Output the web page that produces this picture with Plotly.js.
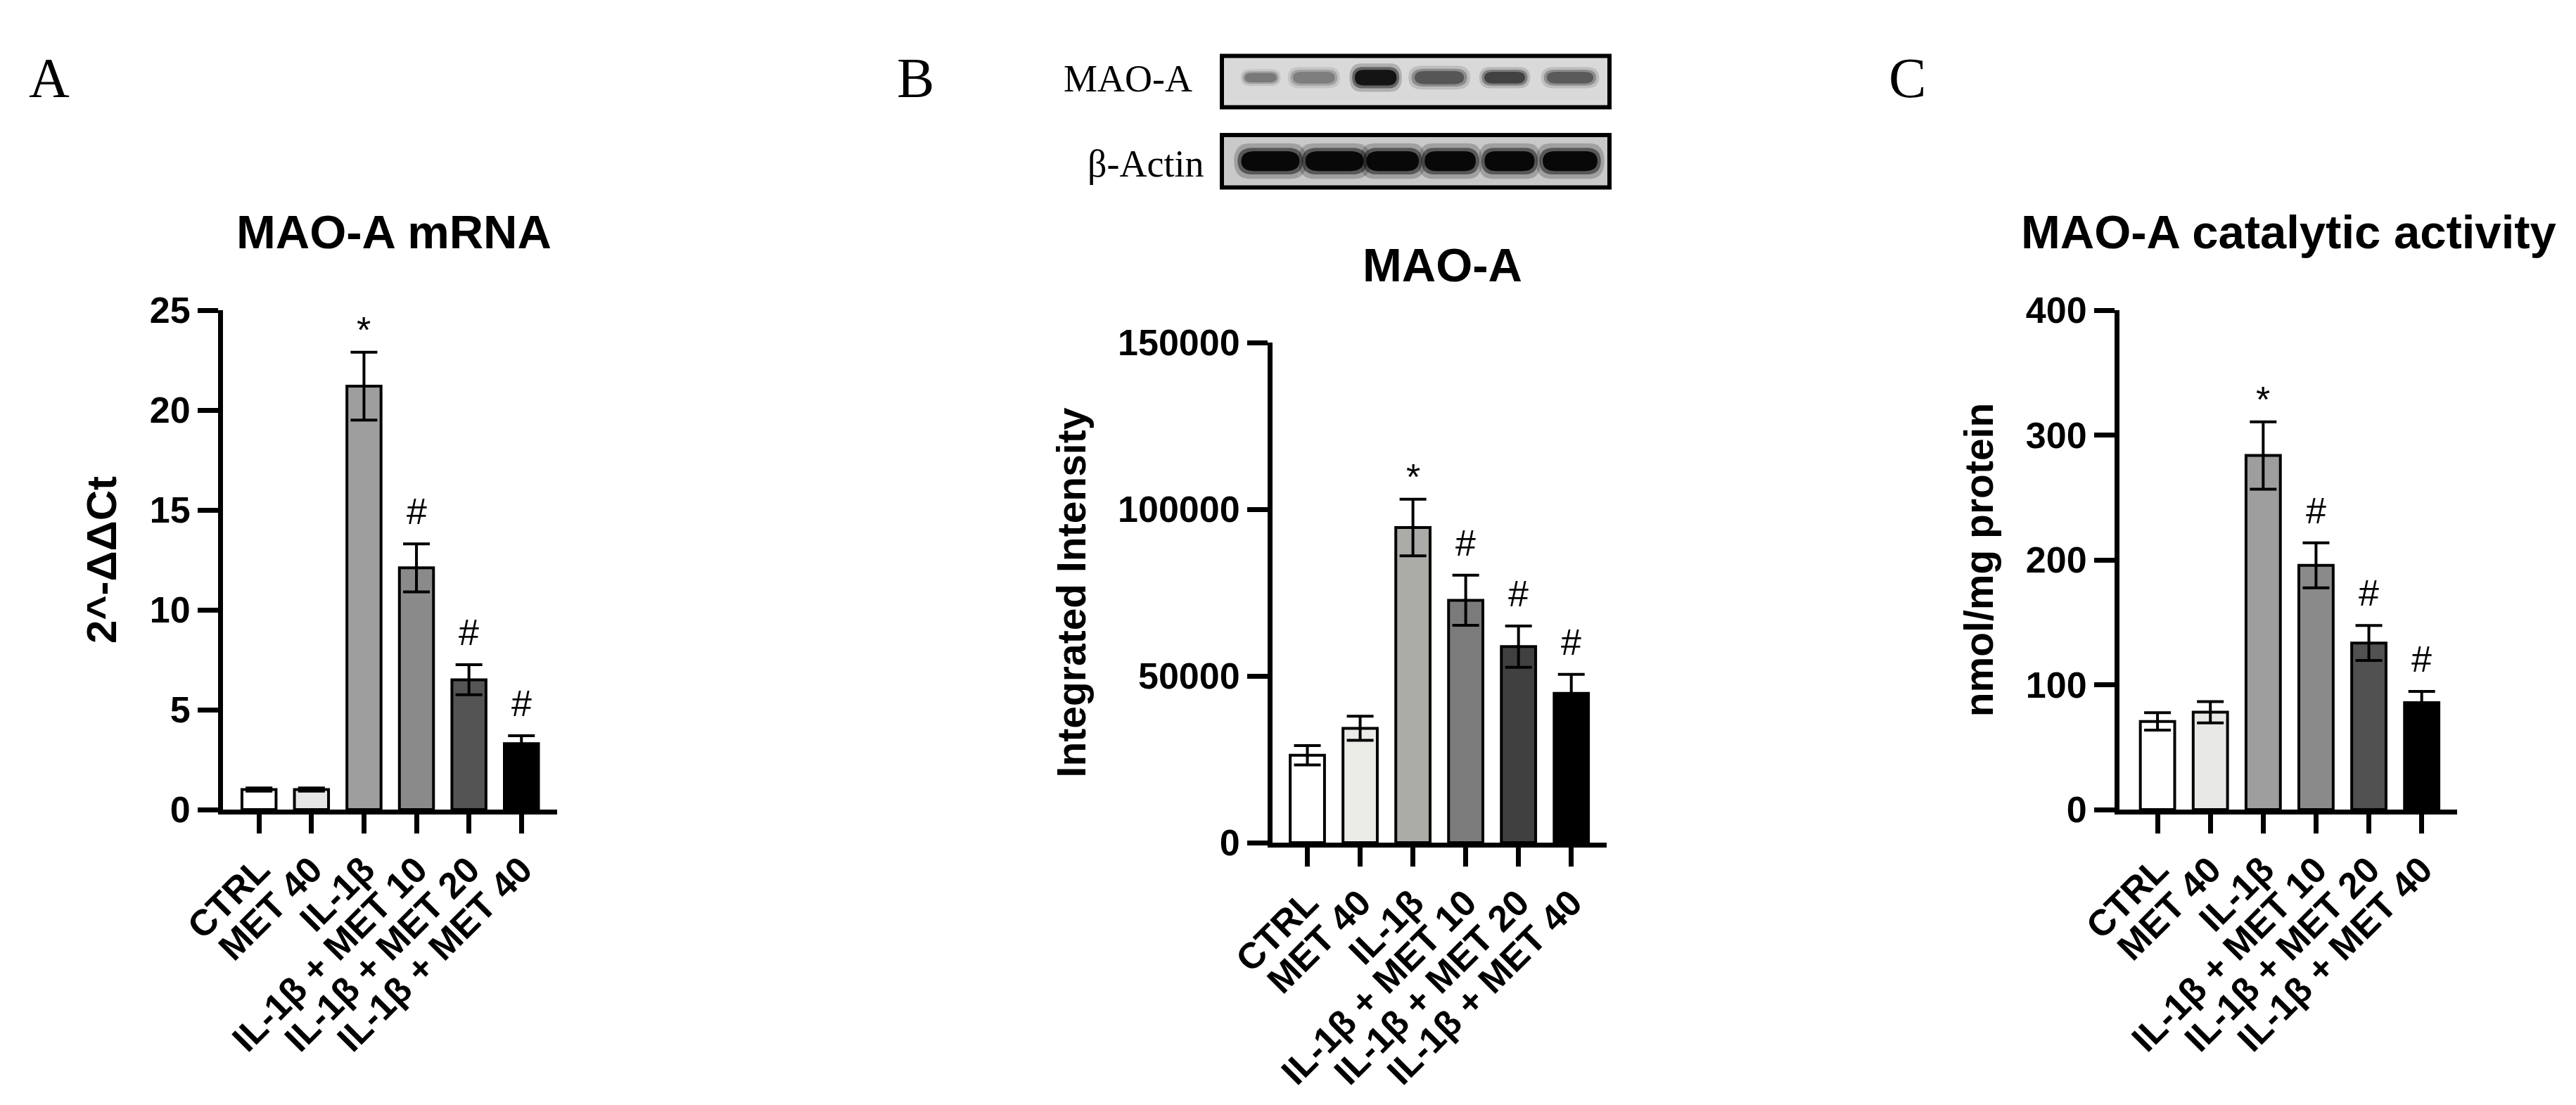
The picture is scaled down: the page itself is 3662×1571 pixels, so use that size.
<!DOCTYPE html>
<html>
<head>
<meta charset="utf-8">
<script src="https://cdn.plot.ly/plotly-3.0.1.min.js"></script>
<style>
  html, body { margin: 0; padding: 0; background: #ffffff; }
  #chart { width: 3662px; height: 1571px; }
</style>
</head>
<body>
<div id="chart"></div>
<script>
// ---------- data ----------
var groups = ['CTRL', 'MET 40', 'IL-1β', 'IL-1β + MET 10', 'IL-1β + MET 20', 'IL-1β + MET 40'];
var sigMarks = ['', '', '*', '#', '#', '#'];

var mrnaMean = [1.0, 1.0, 21.2, 12.1, 6.5, 3.3];
var mrnaSem  = [0.08, 0.08, 1.7, 1.2, 0.75, 0.4];

var westernMean = [26200, 34300, 94500, 72700, 58800, 44800];
var westernSem  = [2900, 3600, 8500, 7500, 6200, 5700];

var activityMean = [70.6, 78, 283.6, 195.6, 133.4, 85.7];
var activitySem  = [7, 8.5, 27, 18, 14, 9];

// western blot: band darkness per lane (0 = none, 1 = black)
var blotRows = ['MAO-A', 'β-Actin'];
var maoBandDark   = [0.45, 0.42, 0.95, 0.62, 0.72, 0.60];
var actinBandDark = [1.0, 1.0, 1.0, 1.0, 1.0, 1.0];

// ---------- styles ----------
var colorsA = ['#ffffff', '#e6e6e6', '#9e9e9e', '#8a8a8a', '#545454', '#000000'];
var colorsB = ['#ffffff', '#ebebe8', '#abaca7', '#7b7b7b', '#404040', '#000000'];
var colorsC = ['#ffffff', '#e8e8e6', '#9e9e9e', '#8a8a8a', '#515151', '#000000'];

// blot band geometry (style, in lane units / blot-axis units)
var maoBandStyle   = { shift: [-0.16, -0.28, -0.26, -0.21, -0.13, -0.05], width: [0.55, 0.72, 0.72, 0.85, 0.70, 0.80], height: [0.07, 0.09, 0.12, 0.10, 0.09, 0.09], yc: 0.835 };
var actinBandStyle = { shift: [0, 0.06, 0.02, -0.03, -0.05, -0.05], width: [1.0, 1.0, 0.9, 0.88, 0.86, 0.94], height: [0.15, 0.15, 0.15, 0.15, 0.15, 0.15], yc: 0.20 };

var W = 3662, H = 1571;
function dx(px) { return px / W; }
function dy(py) { return 1 - py / H; }

var SANS = 'Liberation Sans, Arial, sans-serif';
var SERIF = 'Liberation Serif, Times New Roman, serif';

function barTrace(means, sems, colors, xa, ya) {
  return {
    type: 'bar',
    x: groups,
    y: means,
    xaxis: xa, yaxis: ya,
    width: 0.65,
    marker: { color: colors, line: { color: '#000000', width: 4 } },
    error_y: { type: 'data', array: sems, visible: true, color: '#000000', thickness: 4, width: 19 },
    hoverinfo: 'skip',
    showlegend: false
  };
}

var traces = [
  barTrace(mrnaMean, mrnaSem, colorsA, 'x', 'y'),
  barTrace(westernMean, westernSem, colorsB, 'x2', 'y2'),
  barTrace(activityMean, activitySem, colorsC, 'x3', 'y3')
];

function xAxis(domPx, rng, anchor) {
  return {
    domain: [dx(domPx[0]), dx(domPx[1])],
    anchor: anchor,
    range: rng,
    type: 'category',
    showline: true, linecolor: '#000000', linewidth: 7,
    ticks: 'outside', ticklen: 27, tickwidth: 7, tickcolor: '#000000',
    tickangle: -45,
    tickfont: { family: SANS, size: 52, color: '#000000', weight: 'bold' },
    showgrid: false, zeroline: false, fixedrange: true
  };
}
function yAxis(domPx, rng, dtick, title, anchor, standoff, tsize) {
  return {
    domain: [dy(domPx[1]), dy(domPx[0])],
    anchor: anchor,
    range: rng, dtick: dtick, tick0: 0,
    showline: true, linecolor: '#000000', linewidth: 7,
    ticks: 'outside', ticklen: 29, tickwidth: 7, tickcolor: '#000000',
    tickfont: { family: SANS, size: 52, color: '#000000', weight: 'bold' },
    showgrid: false, zeroline: false, fixedrange: true,
    title: { text: title, standoff: standoff, font: { family: SANS, size: tsize, color: '#000000', weight: 'bold' } }
  };
}

var annotations = [];
function sigAnn(means, sems, xa, ya) {
  for (var i = 0; i < groups.length; i++) {
    if (!sigMarks[i]) continue;
    annotations.push({
      x: groups[i], y: means[i] + sems[i], xref: xa, yref: ya,
      text: sigMarks[i], showarrow: false,
      xanchor: 'center', yanchor: 'middle',
      yshift: sigMarks[i] === '*' ? 32 : 46,
      font: { family: SANS, size: 52, color: '#000000' }
    });
  }
}
sigAnn(mrnaMean, mrnaSem, 'x', 'y');
sigAnn(westernMean, westernSem, 'x2', 'y2');
sigAnn(activityMean, activitySem, 'x3', 'y3');

function paperText(txt, xpx, ypx, font, xanchor) {
  annotations.push({
    x: dx(xpx), y: dy(ypx), xref: 'paper', yref: 'paper',
    text: txt, showarrow: false, xanchor: xanchor || 'center', yanchor: 'middle',
    font: font
  });
}
// panel letters
paperText('A', 70, 111, { family: SERIF, size: 80, color: '#000000' });
paperText('B', 1301, 111, { family: SERIF, size: 80, color: '#000000' });
paperText('C', 2711, 111, { family: SERIF, size: 80, color: '#000000' });
// panel titles
var titleFont = { family: SANS, size: 67, color: '#000000', weight: 'bold' };
paperText('MAO-A mRNA', 560, 330, titleFont);
paperText('MAO-A', 2050, 376, titleFont);
paperText('MAO-A catalytic activity', 3253, 330, titleFont);
// blot row labels
paperText(blotRows[0], 1697, 112, { family: SERIF, size: 54, color: '#000000' }, 'right');
paperText(blotRows[1], 1713, 233, { family: SERIF, size: 54, color: '#000000' }, 'right');

// ---------- western blot illustration on its own axes ----------
var shapes = [];
shapes.push({ type: 'rect', xref: 'x4 domain', yref: 'y4 domain', x0: 0, x1: 1, y0: 0.609, y1: 1,
  fillcolor: '#d9d9d9', line: { color: '#000000', width: 6 }, layer: 'below' });
shapes.push({ type: 'rect', xref: 'x4 domain', yref: 'y4 domain', x0: 0, x1: 1, y0: 0, y1: 0.398,
  fillcolor: '#c9c9c9', line: { color: '#000000', width: 6 }, layer: 'below' });

function bandPath(xc, yc, w, h) {
  var x0 = xc - w / 2, x1 = xc + w / 2, y0 = yc - h / 2, y1 = yc + h / 2;
  var rx = w * 0.22, ry = h / 2;
  return 'M ' + (x0 + rx) + ' ' + y0 +
    ' L ' + (x1 - rx) + ' ' + y0 +
    ' Q ' + x1 + ' ' + y0 + ' ' + x1 + ' ' + (y0 + ry) +
    ' Q ' + x1 + ' ' + y1 + ' ' + (x1 - rx) + ' ' + y1 +
    ' L ' + (x0 + rx) + ' ' + y1 +
    ' Q ' + x0 + ' ' + y1 + ' ' + x0 + ' ' + (y1 - ry) +
    ' Q ' + x0 + ' ' + y0 + ' ' + (x0 + rx) + ' ' + y0 + ' Z';
}
function addBands(darks, st) {
  var layers = [[1.2, 1.8, 0.2], [1.08, 1.35, 0.45], [0.96, 1.0, 0.9]];
  for (var i = 0; i < darks.length; i++) {
    var g = Math.round(210 * (1 - darks[i]));
    var col = 'rgb(' + g + ',' + g + ',' + g + ')';
    for (var k = 0; k < layers.length; k++) {
      shapes.push({
        type: 'path', xref: 'x4', yref: 'y4',
        path: bandPath(i + st.shift[i], st.yc, st.width[i] * layers[k][0], st.height[i] * layers[k][1]),
        fillcolor: col, opacity: layers[k][2], line: { width: 0 }, layer: 'above'
      });
    }
  }
}
addBands(maoBandDark, maoBandStyle);
addBands(actinBandDark, actinBandStyle);

var layout = {
  width: W, height: H,
  margin: { l: 0, r: 0, t: 0, b: 0 },
  paper_bgcolor: '#ffffff', plot_bgcolor: 'rgba(0,0,0,0)',
  showlegend: false,
  xaxis:  xAxis([317, 792], [-0.686, 5.68], 'y'),
  yaxis:  yAxis([441, 1151], [0, 25], 5, '2^-ΔΔCt', 'x', 30, 60),
  xaxis2: xAxis([1809, 2284], [-0.66, 5.67], 'y2'),
  yaxis2: yAxis([487, 1198], [0, 150000], 50000, 'Integrated Intensity', 'x2', 30, 57),
  xaxis3: xAxis([3013, 3493], [-0.72, 5.67], 'y3'),
  yaxis3: yAxis([441, 1151], [0, 400], 100, 'nmol/mg protein', 'x3', 30, 57),
  xaxis4: { domain: [dx(1737), dx(2288)], anchor: 'y4', range: [-0.8, 5.6], visible: false, fixedrange: true },
  yaxis4: { domain: [dy(266.5), dy(79.5)], anchor: 'x4', range: [0, 1], visible: false, fixedrange: true },
  shapes: shapes,
  annotations: annotations
};
layout.yaxis2.tickformat = 'd';

Plotly.newPlot('chart', traces, layout, { staticPlot: true, displayModeBar: false });
</script>
</body>
</html>
